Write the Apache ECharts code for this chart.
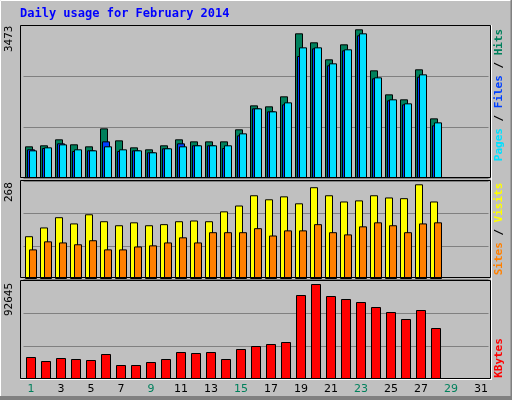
<!DOCTYPE html>
<html><head><meta charset="utf-8">
<script src="https://cdn.jsdelivr.net/npm/echarts@6/dist/echarts.min.js"></script>
<style>html,body{margin:0;padding:0;background:#c0c0c0}#c{width:512px;height:400px}</style>
</head><body><div id="c"></div>
<script>
const days = Array.from({length:31},(_,i)=>String(i+1));
const weekend = ['1','2','8','9','15','16','22','23','29','30'];
const hits = [719,742,878,765,719,1127,855,696,651,742,878,832,832,832,1105,1649,1627,1854,3284,3080,2694,3034,3375,2444,1899,1786,2467,1354];
const files = [651,681,787,613,628,832,613,628,583,674,787,742,742,681,968,1581,1513,1672,2769,2943,2558,2898,3239,2263,1763,1672,2300,1195];
const pages = [628,696,764,651,628,719,651,628,583,674,719,742,742,742,1014,1581,1513,1717,2966,2966,2603,2921,3284,2285,1786,1695,2353,1263];
const visits = [117,141,169,152,177,158,147,155,147,150,158,160,158,185,201,229,218,226,207,251,229,212,215,229,223,221,259,212];
const sites = [81,103,100,95,106,81,81,89,92,100,114,100,128,128,128,139,119,133,133,150,128,122,144,155,147,128,152,155];
const kbytes = [20585,16843,19650,18714,17778,23393,13100,13100,15907,18714,25264,24328,25264,18714,28071,30878,32749,34621,78599,88892,77663,74856,72049,67371,62693,56143,64564,47720];
const maxHits = 3473, maxVisits = 268, maxKB = 92645;

const chart = echarts.init(document.getElementById('c'));
const grids = [{top:25,height:153},{top:181,height:98},{top:280,height:99}];
const maxes = [maxHits,maxVisits,maxKB];
const bs = {borderColor:'#000',borderWidth:1};
chart.setOption({
  backgroundColor:'#c0c0c0',
  animation:false,
  grid: grids.map(g=>({left:23.5,width:465,top:g.top,height:g.height})),
  xAxis: [0,1,2].map(i=>({type:'category',gridIndex:i,data:days,
    axisLine:{show:false},axisTick:{show:false},
    axisLabel:{show:i===2,margin:5,fontFamily:'DejaVu Sans',fontSize:11,
      color:(v)=>weekend.includes(v)?'#00805c':'#000'}})),
  yAxis: [0,1,2].map(i=>({type:'value',gridIndex:i,min:0,max:maxes[i],interval:maxes[i]/3,
    axisLabel:{show:false},axisLine:{show:false},axisTick:{show:false},
    splitLine:{show:true,lineStyle:{color:'#808080',width:1}}})),
  series:[
    {type:'bar',xAxisIndex:0,yAxisIndex:0,data:hits,barWidth:8,barGap:'-75%',itemStyle:{color:'#00805c',...bs}},
    {type:'bar',xAxisIndex:0,yAxisIndex:0,data:files,barWidth:8,barGap:'-75%',itemStyle:{color:'#0040ff',...bs}},
    {type:'bar',xAxisIndex:0,yAxisIndex:0,data:pages,barWidth:8,barGap:'-75%',itemStyle:{color:'#00e0ff',...bs}},
    {type:'bar',xAxisIndex:1,yAxisIndex:1,data:visits,barWidth:8,barGap:'-50%',itemStyle:{color:'#ffff00',...bs}},
    {type:'bar',xAxisIndex:1,yAxisIndex:1,data:sites,barWidth:8,barGap:'-50%',itemStyle:{color:'#ff8000',...bs}},
    {type:'bar',xAxisIndex:2,yAxisIndex:2,data:kbytes,barWidth:10,itemStyle:{color:'#ff0000',...bs}}
  ],
  graphic:[
    {type:'line',shape:{x1:0.5,y1:0.5,x2:511,y2:0.5},style:{stroke:'#fff'}},
    {type:'line',shape:{x1:0.5,y1:0.5,x2:0.5,y2:399},style:{stroke:'#fff'}},
    {type:'line',shape:{x1:511.5,y1:0,x2:511.5,y2:400},style:{stroke:'#808080',lineWidth:2}},
    {type:'rect',shape:{x:0,y:396,width:512,height:4},style:{fill:'#808080'}},
    {type:'rect',shape:{x:20.5,y:25.5,width:470,height:152},style:{fill:null,stroke:'#000'},z:10},
    {type:'rect',shape:{x:20.5,y:180.5,width:470,height:97},style:{fill:null,stroke:'#000'},z:10},
    {type:'rect',shape:{x:20.5,y:280.5,width:470,height:98},style:{fill:null,stroke:'#000'},z:10},
    {type:'line',shape:{x1:491.5,y1:25,x2:491.5,y2:380},style:{stroke:'#fff'},z:10},
    {type:'line',shape:{x1:20,y1:379.5,x2:492,y2:379.5},style:{stroke:'#fff'},z:10},
    {type:'text',left:20,top:8,style:{text:'Daily usage for February 2014',fill:'#0000ff',font:'bold 12px "DejaVu Sans Mono"'}},
    {type:'text',x:9,y:52,rotation:Math.PI/2,style:{text:String(maxHits),fill:'#000',font:'11px "DejaVu Sans Mono"',align:'left',verticalAlign:'middle'}},
    {type:'text',x:9,y:202,rotation:Math.PI/2,style:{text:String(maxVisits),fill:'#000',font:'11px "DejaVu Sans Mono"',align:'left',verticalAlign:'middle'}},
    {type:'text',x:9,y:316,rotation:Math.PI/2,style:{text:String(maxKB),fill:'#000',font:'11px "DejaVu Sans Mono"',align:'left',verticalAlign:'middle'}},
    {type:'text',x:499,y:95,rotation:Math.PI/2,style:{text:'{p|Pages}{s| / }{f|Files}{s| / }{h|Hits}',align:'center',verticalAlign:'middle',font:'bold 11px "DejaVu Sans Mono"',
      rich:{p:{fill:'#00e0ff',font:'bold 11px "DejaVu Sans Mono"'},f:{fill:'#0040ff',font:'bold 11px "DejaVu Sans Mono"'},h:{fill:'#00805c',font:'bold 11px "DejaVu Sans Mono"'},s:{fill:'#000',font:'bold 11px "DejaVu Sans Mono"'}}}},
    {type:'text',x:499,y:229,rotation:Math.PI/2,style:{text:'{a|Sites}{s| / }{b|Visits}',align:'center',verticalAlign:'middle',font:'bold 11px "DejaVu Sans Mono"',
      rich:{a:{fill:'#ff8000',font:'bold 11px "DejaVu Sans Mono"'},b:{fill:'#ffff00',font:'bold 11px "DejaVu Sans Mono"'},s:{fill:'#000',font:'bold 11px "DejaVu Sans Mono"'}}}},
    {type:'text',x:499,y:358,rotation:Math.PI/2,style:{text:'KBytes',fill:'#ff0000',align:'center',verticalAlign:'middle',font:'bold 11px "DejaVu Sans Mono"'}}
  ]
});
</script></body></html>
